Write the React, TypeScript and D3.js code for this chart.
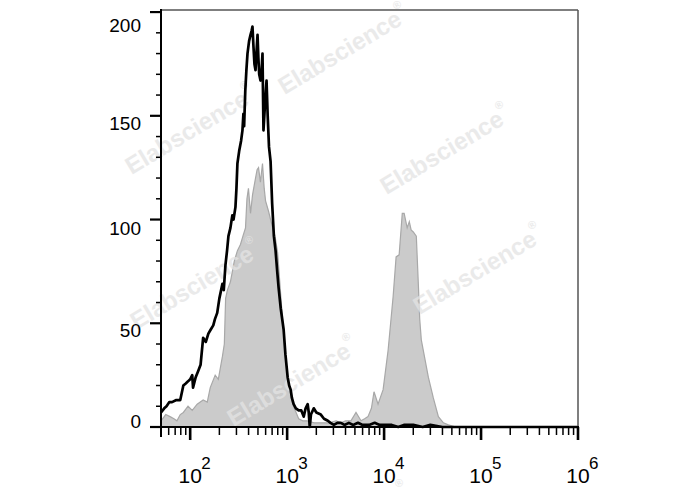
import * as d3 from "d3";

const width = 688;
const height = 490;
const plotLeft = 161;
const plotRight = 578;
const plotTop = 10;
const plotBottom = 427;

// [fluorescence intensity, event count]
const blackHistogram: [number, number][] = [
  [50, 7], [54, 9], [57, 10], [61, 12], [65, 12], [72, 13], [79, 13], [85, 20],
  [90, 21], [95, 22], [100, 23], [105, 25], [107, 19], [114, 24], [121, 27],
  [128, 30], [136, 43], [145, 41], [154, 45], [163, 47], [173, 49], [180, 52],
  [190, 55], [200, 62], [215, 69], [222, 66], [231, 78], [240, 85], [248, 92],
  [260, 96], [272, 102], [280, 100], [293, 106], [300, 115], [307, 127],
  [320, 133], [335, 138], [346, 143], [354, 151], [360, 145], [370, 162],
  [380, 172], [390, 180], [405, 186], [419, 189], [430, 191], [439, 193],
  [450, 183], [460, 175], [472, 172], [482, 180], [495, 189], [505, 178],
  [515, 170], [531, 167], [545, 172], [557, 180], [570, 143], [590, 155],
  [613, 167], [630, 150], [650, 135], [675, 128], [700, 108], [730, 92],
  [760, 85], [790, 75], [817, 67], [860, 57], [920, 47], [960, 35], [1012, 24],
  [1050, 20], [1087, 18], [1120, 14], [1167, 11], [1230, 9], [1315, 8],
  [1400, 8], [1482, 5], [1550, 9], [1629, 11], [1670, 7], [1710, 0], [1760, 6],
  [1882, 9], [2000, 7], [2224, 6], [2400, 4], [2630, 3], [2800, 2], [3035, 1],
  [3300, 2], [3585, 2], [3900, 1], [4333, 2], [4800, 1], [5380, 2], [6000, 1],
  [7000, 1], [8000, 2], [9000, 1], [10000, 1], [12000, 1], [14000, 0],
  [16000, 1], [20000, 1], [25000, 0], [30000, 1], [40000, 0], [60000, 0],
  [100000, 0], [1000000, 0],
];

const grayHistogram: [number, number][] = [
  [50, 3], [56, 6], [62, 5], [68, 4], [73, 3], [79, 6], [85, 7], [95, 10],
  [105, 8], [118, 11], [136, 13], [150, 12], [161, 19], [181, 25], [195, 23],
  [215, 34], [225, 40], [232, 62], [242, 66], [260, 70], [285, 80], [307, 85],
  [330, 88], [350, 92], [372, 96], [385, 110], [399, 115], [419, 103],
  [440, 112], [472, 120], [490, 124], [507, 125], [530, 118], [557, 127],
  [580, 115], [599, 109], [643, 104], [708, 96], [750, 92], [798, 84],
  [898, 51], [950, 38], [1012, 23], [1140, 11], [1315, 4], [1450, 3],
  [1600, 3], [1900, 2], [2224, 2], [2700, 2], [3200, 3], [3585, 2], [4000, 3],
  [4550, 3], [5130, 7], [5780, 3], [6300, 4], [6820, 5], [7400, 9], [7870, 17],
  [8660, 11], [9770, 18], [11000, 37], [12400, 63], [13300, 82], [14300, 83],
  [15400, 103], [16100, 103], [17300, 96], [18200, 99], [19000, 95],
  [20000, 94], [21500, 92], [22500, 70], [23300, 52], [24200, 42],
  [28600, 24], [32200, 14], [36300, 5], [40900, 2], [46000, 1], [55000, 0],
  [100000, 0], [1000000, 0],
];

const xMajorTicks = [1e2, 1e3, 1e4, 1e5, 1e6];
const xTickExponents = ["2", "3", "4", "5", "6"];
const yMajorTicks = [0, 50, 100, 150, 200];
const yLabelNudge = [-6, 7, 9, 8, 13];

const watermarkCenters: [number, number][] = [
  [343, 50], [190, 130], [445, 150], [478, 270], [195, 285], [292, 382], [345, 528],
];

const font = "'Liberation Sans', Arial, sans-serif";

const x = d3.scaleLog().domain([50, 1e6]).range([plotLeft, plotRight]);
const y = d3.scaleLinear().domain([0, 201]).range([plotBottom, plotTop]);

const xMinorTicks: number[] = [];
for (let p = 1; p < 6; p++) {
  for (let k = 2; k <= 9; k++) {
    const v = k * 10 ** p;
    if (v >= 50 && v < 1e6) xMinorTicks.push(v);
  }
}
const yMinorTicks = d3.range(0, 201, 10).filter((v) => v % 50 !== 0);

const App = () => {
  const line = d3
    .line<[number, number]>()
    .x((d) => x(d[0]))
    .y((d) => y(d[1]));

  const area = d3
    .area<[number, number]>()
    .x((d) => x(d[0]))
    .y0(y(0))
    .y1((d) => y(d[1]));

  return (
    <svg
      width={width}
      height={height}
      viewBox={`0 0 ${width} ${height}`}
      style={{ position: "absolute", left: 0, top: 0, background: "#fff" }}
    >
      <path
        d={area(grayHistogram) as string}
        fill="#cbcbcb"
        stroke="#a8a8a8"
        strokeWidth={1.2}
      />

      {watermarkCenters.map(([cx, cy], i) => (
        <text
          key={i}
          transform={`translate(${cx},${cy}) rotate(-31)`}
          textAnchor="middle"
          dominantBaseline="central"
          fontFamily={font}
          fontWeight="bold"
          fontSize={24}
          fill="#e4e4e4"
          opacity={0.75}
        >
          Elabscience
          <tspan fontSize={11} dy={-11}>
            ®
          </tspan>
        </text>
      ))}

      <path
        d={line(blackHistogram) as string}
        fill="none"
        stroke="#000"
        strokeWidth={2.7}
        strokeLinejoin="round"
      />

      {/* frame */}
      <line x1={plotLeft} x2={plotRight} y1={plotTop} y2={plotTop} stroke="#555" strokeWidth={1.5} />
      <line x1={plotRight} x2={plotRight} y1={plotTop} y2={plotBottom} stroke="#555" strokeWidth={1.5} />

      {/* y axis */}
      <line x1={plotLeft} x2={plotLeft} y1={plotTop - 1} y2={plotBottom + 10} stroke="#000" strokeWidth={2} />
      {yMinorTicks.map((v) => (
        <line key={v} x1={plotLeft - 5} x2={plotLeft} y1={y(v)} y2={y(v)} stroke="#000" strokeWidth={1.5} />
      ))}
      {yMajorTicks.map((v, i) => (
        <g key={v}>
          <line x1={plotLeft - 11} x2={plotLeft} y1={y(v)} y2={y(v)} stroke="#000" strokeWidth={2.2} />
          <text
            x={141}
            y={y(v) + yLabelNudge[i]}
            textAnchor="end"
            dominantBaseline="central"
            fontFamily={font}
            fontSize={19}
            fill="#000"
          >
            {v}
          </text>
        </g>
      ))}

      {/* x axis */}
      <line x1={plotLeft - 11} x2={plotRight + 1} y1={plotBottom} y2={plotBottom} stroke="#000" strokeWidth={2.2} />
      {xMinorTicks.map((v) => (
        <line key={v} x1={x(v)} x2={x(v)} y1={plotBottom} y2={plotBottom + 8} stroke="#000" strokeWidth={1.5} />
      ))}
      {xMajorTicks.map((v, i) => (
        <g key={v}>
          <line x1={x(v)} x2={x(v)} y1={plotBottom} y2={plotBottom + 13} stroke="#000" strokeWidth={2.6} />
          <text x={x(v)} y={483} textAnchor="middle" fontFamily={font} fontSize={21} fill="#000">
            10
          </text>
          <text x={x(v) + 11} y={469} textAnchor="start" fontFamily={font} fontSize={17} fill="#000">
            {xTickExponents[i]}
          </text>
        </g>
      ))}
    </svg>
  );
};

export default App;
